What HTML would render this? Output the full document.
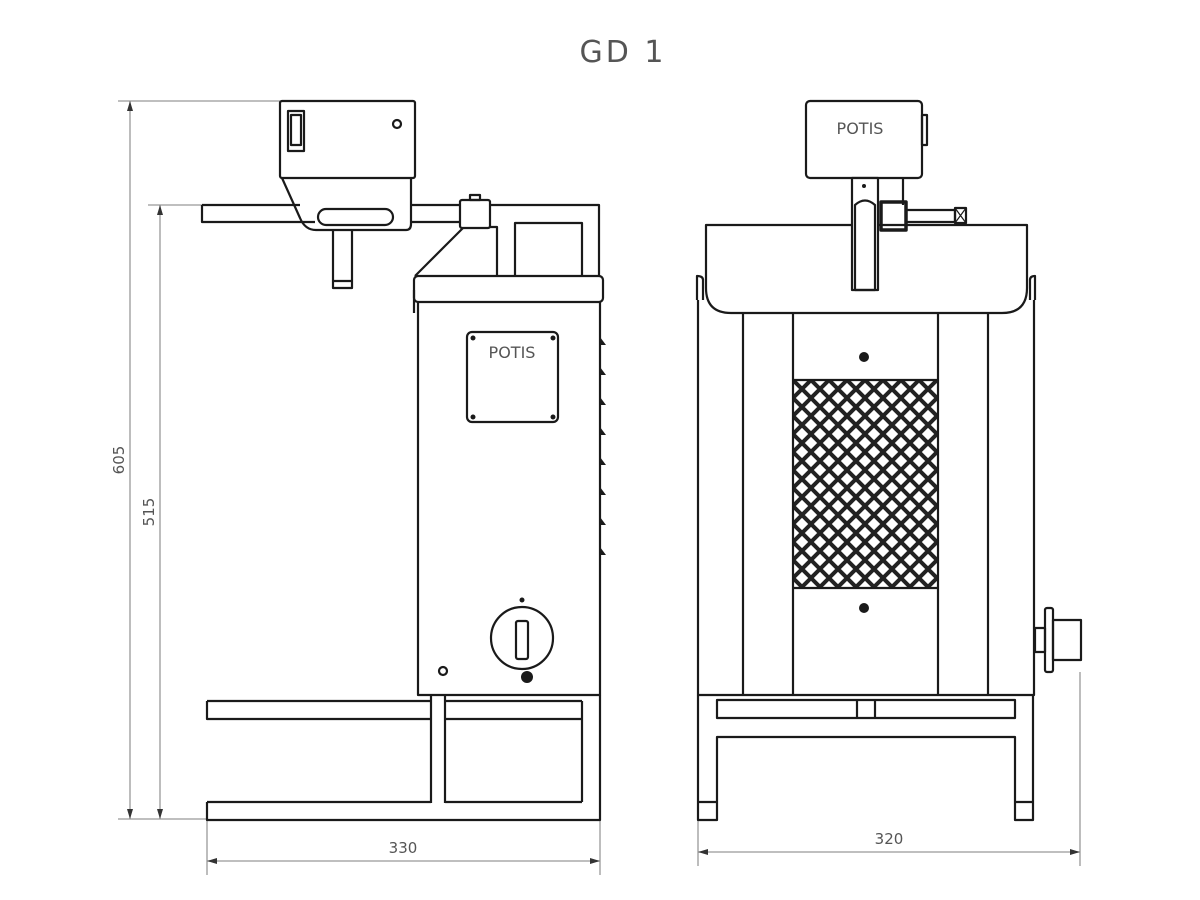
<!DOCTYPE html>
<html><head><meta charset="utf-8"><style>
html,body{margin:0;padding:0;background:#fff}
svg{display:block}
text{font-family:"DejaVu Sans","Liberation Sans",sans-serif;fill:#555}
</style></head><body>
<svg width="1200" height="900" viewBox="0 0 1200 900" xmlns="http://www.w3.org/2000/svg">
<defs>
<pattern id="grid" width="18" height="18" patternUnits="userSpaceOnUse" x="793" y="380">
<rect width="18" height="18" fill="#fff"/>
<path d="M-2,-2 L20,20 M-2,16 L2,20 M16,-2 L20,2 M20,-2 L-2,20 M2,-2 L-2,2 M20,16 L16,20" stroke="#222" stroke-width="4"/>
</pattern>
</defs>
<text x="623" y="62" font-size="30" text-anchor="middle" fill="#333" letter-spacing="3">GD 1</text>

<g fill="none" stroke="#999" stroke-width="1.3">
<line x1="118" y1="101" x2="280" y2="101"/>
<line x1="148" y1="205" x2="202" y2="205"/>
<line x1="118" y1="819" x2="207" y2="819"/>
<line x1="130" y1="101" x2="130" y2="819"/>
<line x1="160" y1="205" x2="160" y2="819"/>
<line x1="207" y1="820" x2="207" y2="875"/>
<line x1="600" y1="820" x2="600" y2="875"/>
<line x1="207" y1="861" x2="600" y2="861"/>
<line x1="698" y1="820" x2="698" y2="866"/>
<line x1="1080" y1="672" x2="1080" y2="866"/>
<line x1="698" y1="852" x2="1080" y2="852"/>
</g>
<g fill="#333">
<path d="M130,101 l-3,10 h6z M130,819 l-3,-10 h6z M160,205 l-3,10 h6z M160,819 l-3,-10 h6z"/>
<path d="M207,861 l10,-3 v6z M600,861 l-10,-3 v6z M698,852 l10,-3 v6z M1080,852 l-10,-3 v6z"/>
</g>
<text font-size="15" transform="translate(124,460) rotate(-90)" text-anchor="middle">605</text>
<text font-size="15" transform="translate(154,512) rotate(-90)" text-anchor="middle">515</text>
<text x="403" y="853" font-size="15" text-anchor="middle">330</text>
<text x="889" y="844" font-size="15" text-anchor="middle">320</text>

<g fill="none" stroke="#1a1a1a" stroke-width="2.2" stroke-linejoin="round">
<rect x="280" y="101" width="135" height="77" rx="2"/>
<rect x="288" y="111" width="16" height="40"/>
<rect x="291" y="115" width="10" height="30"/>
<circle cx="397" cy="124" r="4"/>
<path d="M202,205 H300 M202,205 V222 H315"/>
<path d="M282,178 L300,218 Q305,230 316,230 H406 Q411,230 411,224 V178"/>
<rect x="318" y="209" width="75" height="16" rx="8"/>
<path d="M411,205 H460 M411,222 H460"/>
<rect x="460" y="200" width="30" height="28" rx="2"/>
<rect x="470" y="195" width="10" height="5"/>
<path d="M333,230 V288 H352 V230 M333,281 H352"/>
<path d="M490,205 H599 V276 M490,227 H497 V276 M515,276 V223 H582 V276"/>
<path d="M463,228 L415,276"/>
<rect x="414" y="276" width="189" height="26" rx="4"/>
<path d="M414,290 V313"/>
<path d="M418,302 V695 H600 V302"/>
<rect x="467" y="332" width="91" height="90" rx="5"/>
<path d="M431,695 V803 M445,695 V803 M207,701 H431 M445,701 H582 M207,701 V719 H431 M445,719 H582 M582,701 V802 M207,802 V820 H600 V695 M207,802 H431 M445,802 H582"/>
<circle cx="522" cy="638" r="31"/>
<rect x="516" y="621" width="12" height="38" rx="2"/>
<circle cx="443" cy="671" r="4"/>
</g>
<g fill="#1a1a1a">
<circle cx="473" cy="338" r="2.5"/><circle cx="553" cy="338" r="2.5"/><circle cx="473" cy="417" r="2.5"/><circle cx="553" cy="417" r="2.5"/>
<circle cx="527" cy="677" r="6"/><circle cx="522" cy="600" r="2.5"/>
<path d="M600,337 l6,8 h-6z M600,367 l6,8 h-6z M600,397 l6,8 h-6z M600,427 l6,8 h-6z M600,457 l6,8 h-6z M600,487 l6,8 h-6z M600,517 l6,8 h-6z M600,547 l6,8 h-6z"/>
</g>
<text x="512" y="358" font-size="16" text-anchor="middle">POTIS</text>

<rect x="793" y="380" width="145" height="208" fill="url(#grid)"/>
<g fill="none" stroke="#1a1a1a" stroke-width="2.2" stroke-linejoin="round">
<rect x="806" y="101" width="116" height="77" rx="4"/>
<rect x="922" y="115" width="5" height="30"/>
<path d="M706,225 H1027 V288 Q1027,313 1002,313 H731 Q706,313 706,288 Z"/>
<rect x="852" y="178" width="26" height="112" fill="#fff"/>
<path d="M903,178 V205"/>
<path d="M855,290 V205 Q865,196 875,205 V290 Z"/>
<rect x="881" y="202" width="25" height="28" stroke-width="3.5"/>
<rect x="906" y="210" width="49" height="12"/>
<rect x="955" y="208" width="11" height="15"/>
<path d="M955,208 L966,223 M966,208 L955,223" stroke-width="1.2"/>
<path d="M703,300 V280 Q703,276 697,276 V300 M1030,300 V280 Q1030,276 1035,276 V300"/>
<path d="M698,300 V695 H1034 V300"/>
<path d="M743,313 V695 M793,313 V695 M938,313 V695 M988,313 V695 M793,380 H938 M793,588 H938"/>
<path d="M717,700 H1015 V718 H717 Z M857,700 V718 M875,700 V718"/>
<path d="M698,695 V820 H717 V737 H1015 V820 H1033 V695 M698,802 H717 M1015,802 H1033"/>
<rect x="1045" y="608" width="8" height="64" rx="2"/>
<rect x="1053" y="620" width="28" height="40"/>
<rect x="1035" y="628" width="10" height="24"/>
</g>
<g fill="#1a1a1a">
<circle cx="864" cy="357" r="5"/><circle cx="864" cy="608" r="5"/><circle cx="864" cy="186" r="2"/>
</g>
<text x="860" y="134" font-size="16" text-anchor="middle">POTIS</text>
</svg>
</body></html>
